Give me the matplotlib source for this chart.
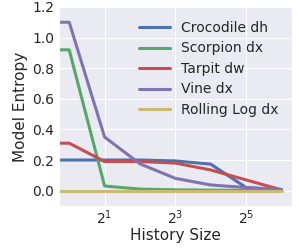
import matplotlib
matplotlib.use("Agg")
import matplotlib.pyplot as plt
import matplotlib.ticker as mticker
import seaborn as sns

sns.set_style("darkgrid")
plt.rcParams['font.family'] = ['DejaVu Sans']

history_sizes = [0, 1, 2, 4, 8, 16, 32, 64]
series_names = ["Crocodile dh", "Scorpion dx", "Tarpit dw", "Vine dx", "Rolling Log dx"]
crocodile = [0.20, 0.20, 0.20, 0.20, 0.194, 0.173, 0.02, 0.005]
scorpion = [0.92, 0.92, 0.03, 0.01, 0.005, 0.003, 0.002, 0.002]
tarpit = [0.31, 0.31, 0.19, 0.19, 0.18, 0.135, 0.07, 0.005]
vine = [1.10, 1.10, 0.35, 0.175, 0.08, 0.037, 0.02, 0.008]
rolling_log = [0.0, 0.0, 0.0, 0.0, 0.0, 0.0, 0.0, 0.0]
series_values = [crocodile, scorpion, tarpit, vine, rolling_log]
colors = ["#4C72B0", "#55A868", "#C44E52", "#8172B2", "#CCB974"]
xtick_values = [2, 8, 32]

fig = plt.figure(figsize=(2.99, 2.49), dpi=100)
ax = fig.add_axes([0.196, 0.173, 0.781, 0.799])
for name, vals, c in zip(series_names, series_values, colors):
    ax.plot(history_sizes, vals, color=c, lw=2.2, label=name)

ax.set_xscale("log", base=2)
ax.set_xlim(2 ** -0.3, 2 ** 6.3)
ax.set_ylim(-0.1, 1.2)
ax.xaxis.set_major_locator(mticker.FixedLocator(xtick_values))
ax.xaxis.set_major_formatter(mticker.LogFormatterMathtext(base=2))
ax.xaxis.set_minor_locator(mticker.NullLocator())
ax.set_yticks([0.0, 0.2, 0.4, 0.6, 0.8, 1.0, 1.2])
ax.tick_params(axis="y", labelsize=10, length=0, pad=3)
ax.tick_params(axis="x", labelsize=10, length=0, pad=1.5)
ax.set_xlabel("History Size", fontsize=11, labelpad=1)
ax.set_ylabel("Model Entropy", fontsize=11, labelpad=3)
ax.legend(loc="upper right", frameon=False, fontsize=10,
          handlelength=2.2, labelspacing=0.47, borderaxespad=0.6)

fig.savefig("out.png", dpi=100)
